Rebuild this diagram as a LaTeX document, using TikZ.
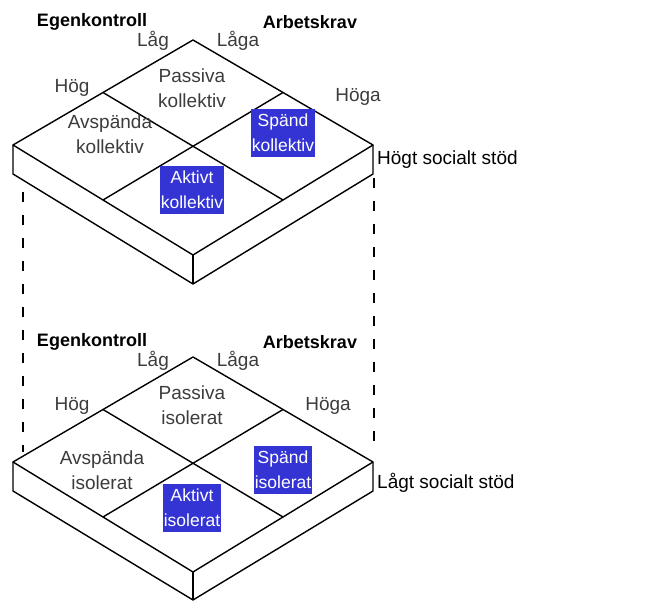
\documentclass[tikz,border=0pt]{standalone}
\usepackage{fontspec}
\setmainfont{Liberation Sans}
\usetikzlibrary{calc}
\definecolor{boxblue}{RGB}{52,52,212}
\definecolor{labelgrey}{RGB}{60,60,60}

\begin{document}
\begin{tikzpicture}[x=1pt, y=-1pt,
    slab/.style={line width=1.4pt, line join=round},
    grid/.style={line width=1.4pt},
    link/.style={line width=2.6pt, dash pattern=on 10pt off 13pt},
    lbl/.style={text=labelgrey, font=\fontsize{19}{25}\selectfont, align=center, inner sep=0pt},
    axis/.style={font=\bfseries\fontsize{18}{24}\selectfont, inner sep=0pt},
    hot/.style={fill=boxblue, text=white, font=\fontsize{17.5}{25}\selectfont, align=center, inner xsep=0.5pt, inner ysep=5pt}]
    \useasboundingbox (0,0) rectangle (648,601);

    % Hoegt socialt stoed (ovre skivan)
    \coordinate (T1) at (193,40);
    \coordinate (L1) at (13,145);
    \coordinate (R1) at (373,145);
    \coordinate (B1) at (193,255);
    \draw[slab, fill=white] (T1) -- (R1) -- (B1) -- (L1) -- cycle;
    \draw[slab] (L1) -- ++(0,29) -- ($(B1)+(0,29)$) -- ($(R1)+(0,29)$) -- (R1);
    \draw[slab] (B1) -- ++(0,29);
    \draw[grid] ($(T1)!0.5!(L1)$) -- ($(R1)!0.5!(B1)$);
    \draw[grid] ($(T1)!0.5!(R1)$) -- ($(L1)!0.5!(B1)$);

    % Laagt socialt stoed (undre skivan)
    \coordinate (T2) at (193,357);
    \coordinate (L2) at (13,462);
    \coordinate (R2) at (373,462);
    \coordinate (B2) at (193,572);
    \draw[slab, fill=white] (T2) -- (R2) -- (B2) -- (L2) -- cycle;
    \draw[slab] (L2) -- ++(0,29) -- ($(B2)+(0,28)$) -- ($(R2)+(0,29)$) -- (R2);
    \draw[slab] (B2) -- ++(0,28);
    \draw[grid] ($(T2)!0.5!(L2)$) -- ($(R2)!0.5!(B2)$);
    \draw[grid] ($(T2)!0.5!(R2)$) -- ($(L2)!0.5!(B2)$);

    % Streckade forbindelser
    \coordinate (dl1) at (23,192);
    \coordinate (dl2) at (23,452);
    \coordinate (dr1) at (374,178);
    \coordinate (dr2) at (374,452);
    \draw[link] (dl1) -- (dl2);
    \draw[link] (dr1) -- (dr2);

    % Etiketter ovre
    \node[axis] (ek1) at (92,22) {Egenkontroll};
    \node[axis] (ak1) at (310,22) {Arbetskrav};
    \node[lbl] (lg1) at (153,41) {Låg};
    \node[lbl] (lga1) at (238,41) {Låga};
    \node[lbl] (hg1) at (72,88) {Hög};
    \node[lbl] (hga1) at (358,97) {Höga};
    \node[lbl] (pas1) at (192,88) {Passiva\\kollektiv};
    \node[lbl] (avs1) at (110,134) {Avspända\\kollektiv};
    \node[hot] (spa1) at (283,133) {Spänd\\kollektiv};
    \node[hot] (akt1) at (192,190) {Aktivt\\kollektiv};
    \node[lbl, text=black, anchor=west] (hss) at (377,160) {Högt socialt stöd};

    % Etiketter undre
    \node[axis] (ek2) at (92,342) {Egenkontroll};
    \node[axis] (ak2) at (310,342) {Arbetskrav};
    \node[lbl] (lg2) at (153,361) {Låg};
    \node[lbl] (lga2) at (238,361) {Låga};
    \node[lbl] (hg2) at (72,406) {Hög};
    \node[lbl] (hga2) at (328,406) {Höga};
    \node[lbl] (pas2) at (192,405) {Passiva\\isolerat};
    \node[lbl] (avs2) at (102,470) {Avspända\\isolerat};
    \node[hot] (spa2) at (283,470) {Spänd\\isolerat};
    \node[hot] (akt2) at (192,508) {Aktivt\\isolerat};
    \node[lbl, text=black, anchor=west] (lss) at (377,483) {Lågt socialt stöd};
\end{tikzpicture}
\end{document}
